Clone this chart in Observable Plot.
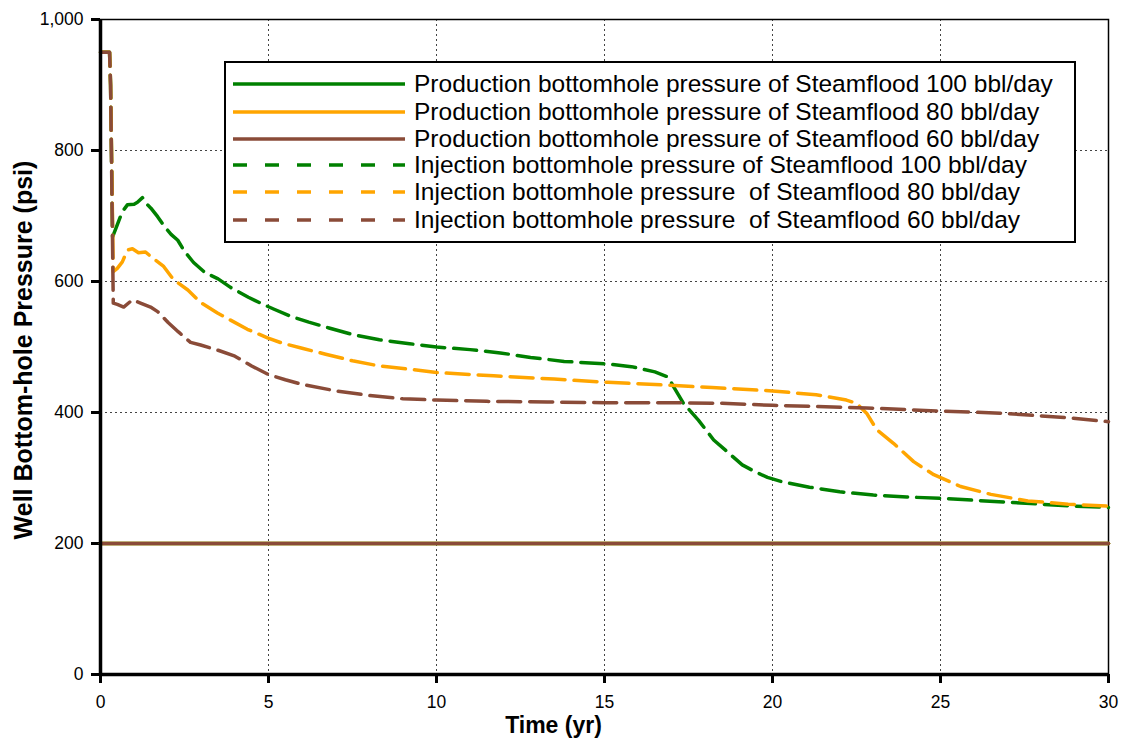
<!DOCTYPE html>
<html><head><meta charset="utf-8">
<script src="https://cdn.jsdelivr.net/npm/d3@7"></script>
<script src="https://cdn.jsdelivr.net/npm/@observablehq/plot@0.6"></script>
<style>
body{margin:0;background:#fff;font-family:Arial,"Liberation Sans",sans-serif;}
#wrap{position:relative;width:1129px;height:746px;}
#legend{position:absolute;left:224px;top:61px;width:848px;height:178px;border:2px solid #000;background:#fff;}
.row{position:absolute;left:0;height:28px;display:flex;align-items:center;}
.row svg{margin-left:7px;display:block;}
.row span{margin-left:9px;font-size:24.5px;white-space:pre;color:#000;line-height:28px;}
</style></head>
<body>
<div id="wrap"><div id="chart"></div><div id="legend"></div></div>
<script>
// ---- data ----
const xTicks = [0, 5, 10, 15, 20, 25, 30];
const yTicks = [0, 200, 400, 600, 800, 1000];

const seriesLabels = [
  "Production bottomhole pressure of Steamflood 100 bbl/day",
  "Production bottomhole pressure of Steamflood 80 bbl/day",
  "Production bottomhole pressure of Steamflood 60 bbl/day",
  "Injection bottomhole pressure of Steamflood 100 bbl/day",
  "Injection bottomhole pressure  of Steamflood 80 bbl/day",
  "Injection bottomhole pressure  of Steamflood 60 bbl/day"
];
const seriesColors = ["#008000", "#ffa500", "#8a4b38", "#008000", "#ffa500", "#8a4b38"];
const seriesDashed = [false, false, false, true, true, true];

const prod100 = [[0, 200], [30, 200]];
const prod80 = [[0, 200], [30, 200]];
const prod60 = [[0, 200], [30, 200]];

const inj100 = [[0,950],[0.27,950],[0.3,900],[0.36,668],[0.45,680],[0.6,700],[0.7,710],[0.8,717],[1.0,718],[1.1,721],[1.25,728],[1.34,720],[1.5,712],[1.7,699],[1.9,684],[2.1,672],[2.3,663],[2.5,646],[2.77,629],[3.1,614],[3.5,604],[3.87,591],[4.4,576],[4.76,567],[5.15,558],[5.65,547],[6.2,538],[6.8,529],[7.5,519],[8.3,511],[9.2,505],[10,500],[11,496],[11.9,491],[12.8,484],[13.8,478],[15.1,474],[15.8,470],[16.5,462],[16.9,454],[17.05,440],[17.35,414],[17.8,388],[18.25,358],[18.7,338],[19.1,320],[19.5,309],[19.85,301],[20.3,294],[21.1,286],[22,279],[23,274],[24,271],[25,269],[26,266],[27,263],[28,260],[29,257],[30,255]];

const inj80 = [[0,950],[0.27,950],[0.3,900],[0.38,615],[0.5,620],[0.65,630],[0.8,648],[0.95,650],[1.13,644],[1.34,645],[1.55,636],[1.88,623],[2.17,603],[2.6,587],[2.98,568],[3.48,552],[3.87,541],[4.37,527],[4.97,514],[5.4,506],[6,498],[6.7,489],[7.5,479],[8.3,471],[9.2,466],[10,461],[11.7,456],[13.5,451],[15.1,446],[16.8,442],[18.2,438],[20,433],[21.3,427],[22.2,419],[22.5,414],[22.8,399],[23.1,374],[23.6,353],[24.2,325],[24.8,305],[25.6,287],[26.5,275],[27.6,265],[28.8,260],[30,257]];

const inj60 = [[0,950],[0.27,950],[0.3,900],[0.38,567],[0.5,565],[0.69,561],[0.95,572],[1.19,567],[1.49,561],[1.7,554],[2.02,537],[2.32,523],[2.68,507],[2.98,503],[3.5,495],[4,486],[4.5,471],[5,458],[5.5,450],[6,443],[7,433],[8,426],[9,421],[10,419],[11.5,417],[13.3,416],[15,415],[17,415],[18.5,414],[20,411],[22.8,407],[25.1,402],[26.8,399],[28.8,392],[30,386]];

const seriesData = [prod100, prod80, prod60, inj100, inj80, inj60];
const xLabel = "Time (yr)";
const yLabel = "Well Bottom-hole Pressure (psi)";

// ---- chart ----
const font = "Arial, 'Liberation Sans', sans-serif";
const lineMarks = seriesData.map((data, i) => Plot.line(data, {
  x: d => d[0], y: d => d[1],
  stroke: seriesColors[i], strokeWidth: 3.5,
  strokeDasharray: seriesDashed[i] ? "23,9" : null,
  strokeLinejoin: "round"
}));
// draw production lines on top so brown shows at 200
const order = [3, 4, 5, 0, 1, 2];

const chart = Plot.plot({
  width: 1129, height: 746,
  marginLeft: 100, marginRight: 21, marginTop: 19, marginBottom: 72,
  x: {domain: [0, 30]},
  y: {domain: [0, 1000]},
  style: {fontFamily: font, fontSize: "17px", color: "#000", background: "#fff"},
  marks: [
    Plot.gridX(xTicks.filter(t => t > 0 && t < 30), {stroke: "#444", strokeOpacity: 1, strokeDasharray: "2,3", strokeWidth: 1}),
    Plot.gridY(yTicks.filter(t => t > 0 && t < 1000), {stroke: "#444", strokeOpacity: 1, strokeDasharray: "2,3", strokeWidth: 1}),
    Plot.frame({stroke: "#000", strokeWidth: 1.5}),
    Plot.axisX(xTicks, {tickSize: 9, tickPadding: 12, strokeWidth: 3, label: null, fontSize: 17.5}),
    Plot.axisY(yTicks, {tickSize: 9, tickPadding: 8, strokeWidth: 3, label: null, fontSize: 17.5, tickFormat: d3.format(",")}),
    ...order.map(i => lineMarks[i]),
    Plot.ruleX([0], {strokeWidth: 3.5, stroke: "#000"}),
    Plot.ruleY([0], {strokeWidth: 3.5, stroke: "#000"}),
    Plot.text([xLabel], {frameAnchor: "bottom", dy: 58, dx: -51, fontWeight: "bold", fontSize: 23, fill: "#000"}),
    Plot.text([yLabel], {frameAnchor: "left", dx: -77, dy: 3, rotate: -90, textAnchor: "middle", fontWeight: "bold", fontSize: 25, fill: "#000"})
  ]
});
document.getElementById("chart").appendChild(chart);

// ---- legend ----
const legend = document.getElementById("legend");
const rowCenters = [21, 49, 76, 102, 129, 157];
seriesLabels.forEach((lab, i) => {
  const row = document.createElement("div");
  row.className = "row";
  row.style.top = (rowCenters[i] - 14) + "px";
  const dash = seriesDashed[i] ? ' stroke-dasharray="14,18"' : '';
  row.innerHTML = `<svg width="172" height="10"><line x1="0" y1="5" x2="172" y2="5" stroke="${seriesColors[i]}" stroke-width="3.5"${dash}/></svg><span></span>`;
  row.querySelector("span").textContent = lab;
  legend.appendChild(row);
});
</script>
</body></html>
